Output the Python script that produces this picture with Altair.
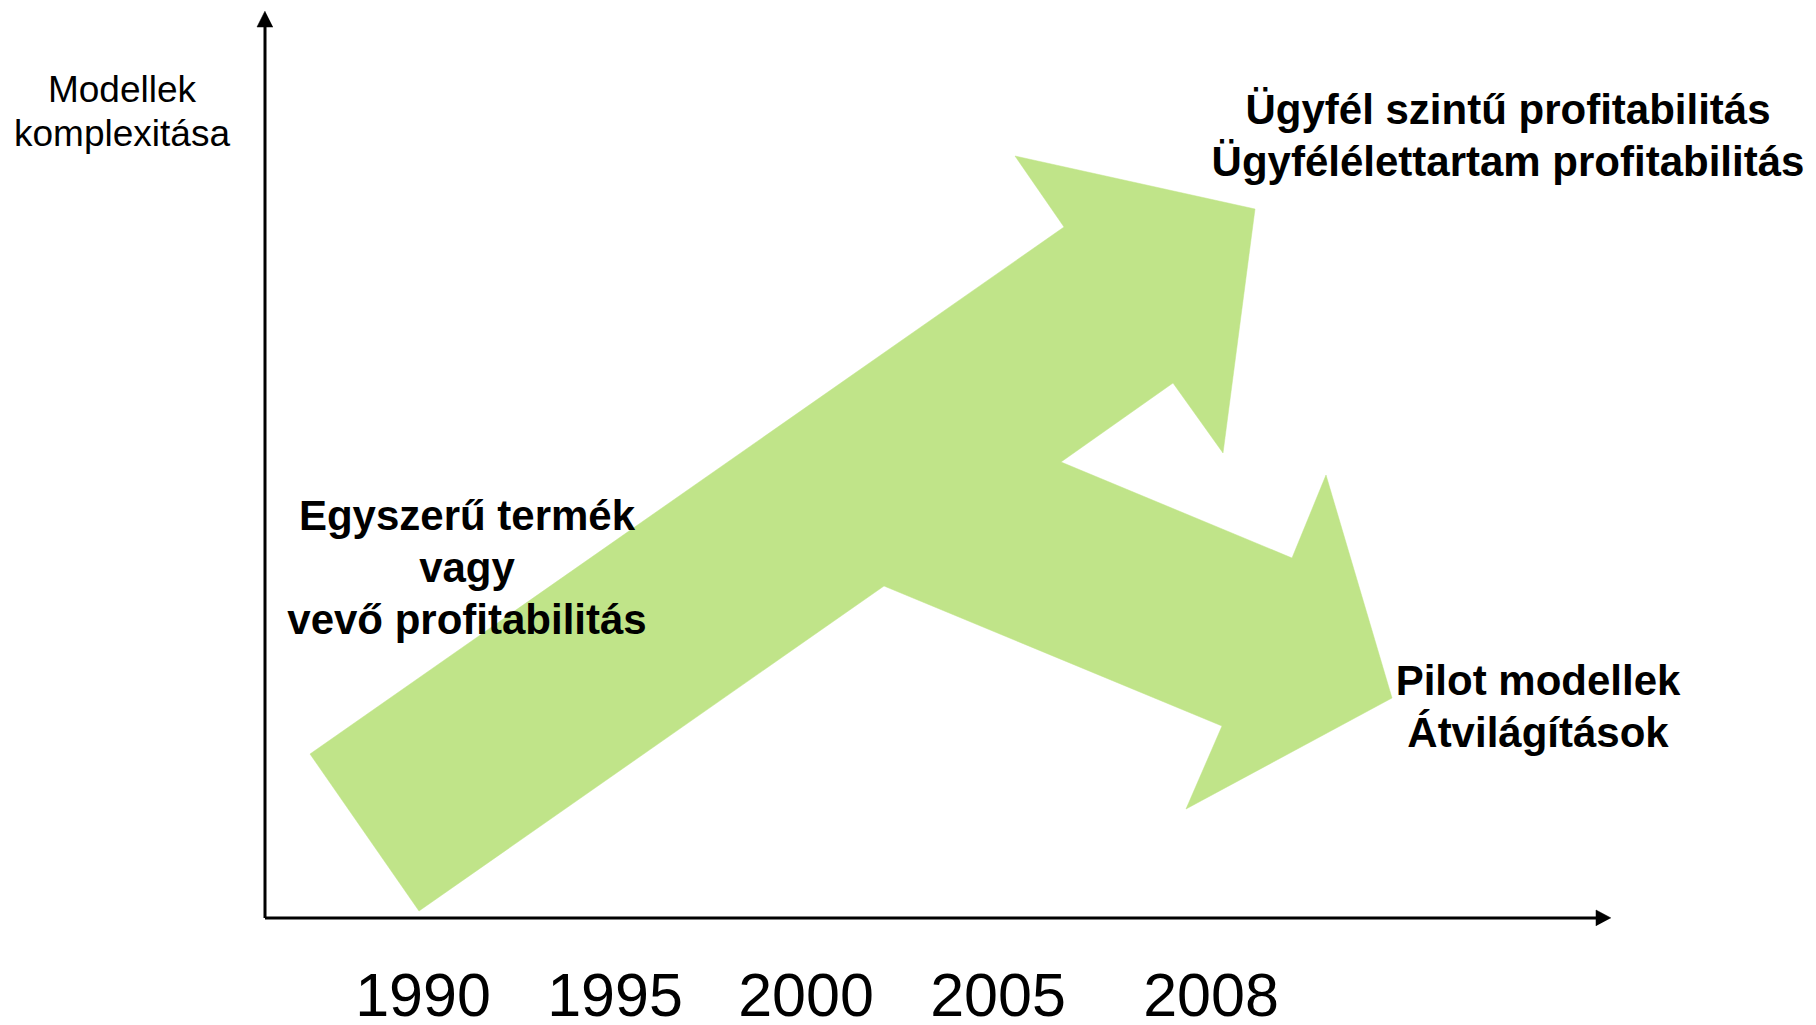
import altair as alt
import pandas as pd

# ---- data -------------------------------------------------------------
# outline of the branching green arrow (diagram units = reference pixels)
arrow_x = [310, 1064, 1015, 1255, 1223, 1173, 1061, 1292, 1326, 1392, 1186, 1222, 884, 419, 310]
arrow_y = [754, 227, 156, 209, 453, 383, 462, 558, 475, 698, 809, 726, 586, 911, 754]

# axes (start/end) and their arrow heads
axis_x1 = [265, 265]
axis_y1 = [27, 918]
axis_x2 = [265, 1597]
axis_y2 = [918, 918]
head_id = ["y", "y", "y", "x", "x", "x"]
head_x = [265, 257, 273, 1611, 1596, 1596]
head_y = [11, 27, 27, 918, 910, 926]

years = ["1990", "1995", "2000", "2005", "2008"]
year_x = [423, 615, 806, 998, 1211]
year_y = [1016, 1016, 1016, 1016, 1016]

axis_title = ["Modellek\nkomplexitása"]
axis_title_x = [122]
axis_title_y = [102]

labels = [
    "Ügyfél szintű profitabilitás\nÜgyfélélettartam profitabilitás",
    "Egyszerű termék\nvagy\nvevő profitabilitás",
    "Pilot modellek\nÁtvilágítások",
]
label_x = [1508, 467, 1538]
label_y = [124, 530, 695]

GREEN = "#C0E489"
FONT = "Liberation Sans"

xs = alt.Scale(domain=[8, 1808], nice=False, zero=False)
ys = alt.Scale(domain=[8, 1017], reverse=True, nice=False, zero=False)

arrow_df = pd.DataFrame({"x": arrow_x, "y": arrow_y, "i": range(len(arrow_x))})
axis_df = pd.DataFrame({"x": axis_x1, "y": axis_y1, "x2": axis_x2, "y2": axis_y2})
head_df = pd.DataFrame({"id": head_id, "x": head_x, "y": head_y, "i": range(len(head_x))})
year_df = pd.DataFrame({"t": years, "x": year_x, "y": year_y})
title_df = pd.DataFrame({"t": axis_title, "x": axis_title_x, "y": axis_title_y})
label_df = pd.DataFrame({"t": labels, "x": label_x, "y": label_y})

X = lambda: alt.X("x:Q", scale=xs, axis=None)
Y = lambda: alt.Y("y:Q", scale=ys, axis=None)

arrow = alt.Chart(arrow_df).mark_line(
    fill=GREEN, stroke=GREEN, strokeWidth=0.5, interpolate="linear"
).encode(x=X(), y=Y(), order="i:Q")

axes = alt.Chart(axis_df).mark_rule(color="black", strokeWidth=3).encode(
    x=X(), y=Y(), x2="x2:Q", y2="y2:Q"
)

heads = alt.Chart(head_df).mark_line(
    fill="black", stroke="black", strokeWidth=0.5
).encode(x=X(), y=Y(), order="i:Q", detail="id:N")

year_text = alt.Chart(year_df).mark_text(
    font=FONT, fontSize=61, color="black", align="center", baseline="alphabetic"
).encode(x=X(), y=Y(), text="t:N")

title_text = alt.Chart(title_df).mark_text(
    font=FONT, fontSize=37, color="black", align="center", baseline="alphabetic",
    lineBreak="\n", lineHeight=44
).encode(x=X(), y=Y(), text="t:N")

label_text = alt.Chart(label_df).mark_text(
    font=FONT, fontSize=42, fontWeight="bold", color="black", align="center",
    baseline="alphabetic", lineBreak="\n", lineHeight=52
).encode(x=X(), y=Y(), text="t:N")

chart = alt.layer(arrow, axes, heads, year_text, title_text, label_text).properties(
    width=1800, height=1009, padding=0,
    autosize=alt.AutoSizeParams(type="none"),
).configure_view(stroke=None)

chart.save("out.html", embed_options={"renderer": "svg", "actions": False})
